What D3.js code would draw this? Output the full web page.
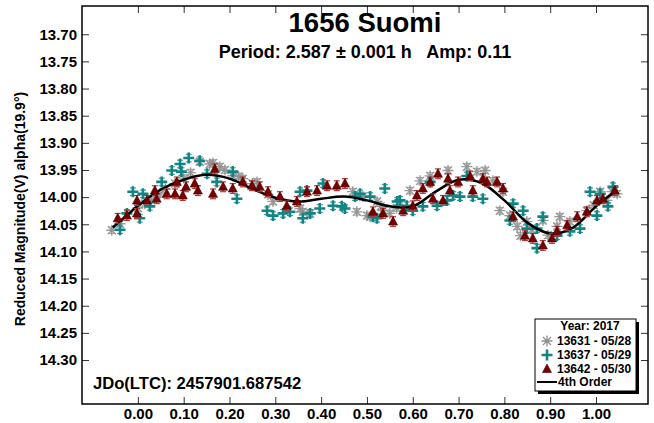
<!DOCTYPE html>
<html>
<head>
<meta charset="utf-8">
<script src="https://cdn.jsdelivr.net/npm/d3@7"></script>
<style>
  body { margin: 0; background: #fff; }
  text { font-family: "Liberation Sans", Arial, sans-serif; font-weight: bold; }
</style>
</head>
<body>
<div id="chart"></div>
<script>
// tick values
const phaseTicks = [0, 0.1, 0.2, 0.3, 0.4, 0.5, 0.6, 0.7, 0.8, 0.9, 1.0];
const magTicks = [13.70, 13.75, 13.80, 13.85, 13.90, 13.95, 14.00, 14.05, 14.10, 14.15, 14.20, 14.25, 14.30];

// session 13631 - 05/28  [phase, mag]
const s13631 = [
  [-0.057, 14.061], [-0.039, 14.049], [0.000, 14.020], [0.015, 14.012], [0.030, 14.005],
  [0.048, 13.994], [0.060, 13.985], [0.081, 13.975], [0.100, 13.965], [0.115, 13.955],
  [0.135, 13.935], [0.157, 13.939], [0.164, 13.937], [0.179, 13.944], [0.190, 13.950],
  [0.207, 13.961], [0.220, 13.962], [0.229, 13.966], [0.250, 13.975], [0.260, 13.972],
  [0.284, 13.995], [0.295, 14.008], [0.354, 14.021], [0.360, 14.027], [0.376, 14.030],
  [0.469, 13.990], [0.478, 14.027], [0.491, 13.999], [0.500, 14.034], [0.507, 14.036],
  [0.522, 14.008], [0.530, 14.017], [0.535, 14.025], [0.550, 14.030], [0.565, 14.020],
  [0.594, 13.988], [0.616, 13.970], [0.638, 13.961], [0.677, 13.951], [0.718, 13.944],
  [0.740, 13.953], [0.758, 13.951], [0.775, 13.970], [0.797, 13.990], [0.790, 14.025],
  [0.812, 14.034], [0.828, 14.054], [0.835, 14.071], [0.849, 14.045], [0.860, 14.060],
  [0.884, 14.043], [0.895, 14.070], [0.915, 14.054], [0.921, 14.036], [0.943, 14.045],
  [0.980, 14.025], [0.995, 14.015], [1.009, 13.990], [1.024, 14.006], [1.035, 13.990],
  [1.046, 13.994]
];

// session 13637 - 05/29
const s13637 = [
  [-0.039, 14.060], [-0.024, 14.030], [-0.011, 13.990], [0.011, 13.994], [0.004, 14.039],
  [0.026, 14.017], [0.052, 13.972], [0.074, 13.951], [0.092, 13.939], [0.095, 13.953],
  [0.111, 13.928], [0.135, 13.933], [0.151, 13.957], [0.172, 13.972], [0.207, 13.953],
  [0.216, 14.003], [0.282, 14.025], [0.295, 14.034], [0.317, 14.030], [0.332, 14.027],
  [0.354, 13.990], [0.360, 14.039], [0.376, 14.030], [0.369, 13.988], [0.397, 14.021],
  [0.404, 13.975], [0.426, 14.016], [0.445, 14.017], [0.452, 14.021], [0.474, 13.999],
  [0.485, 13.994], [0.507, 13.999], [0.513, 14.036], [0.522, 14.039], [0.539, 13.984],
  [0.566, 14.008], [0.572, 14.006], [0.587, 14.016], [0.600, 14.025], [0.622, 14.017],
  [0.638, 13.972], [0.653, 14.016], [0.675, 14.006], [0.688, 13.997], [0.703, 13.999],
  [0.718, 13.961], [0.731, 13.999], [0.753, 14.003], [0.819, 14.012], [0.812, 14.043],
  [0.841, 14.025], [0.849, 14.058], [0.871, 14.058], [0.884, 14.036], [0.871, 14.094],
  [0.915, 14.071], [0.943, 14.063], [0.965, 14.058], [1.002, 14.034], [0.987, 13.990],
  [1.009, 13.994], [1.026, 14.017], [1.037, 13.981]
];

// session 13642 - 05/30
const s13642 = [
  [-0.044, 14.039], [-0.024, 14.034], [-0.002, 14.030], [-0.002, 14.006], [0.020, 14.006],
  [0.037, 13.988], [0.041, 14.003], [0.063, 13.994], [0.081, 13.994], [0.085, 13.972],
  [0.098, 13.997], [0.105, 13.981], [0.124, 13.975], [0.131, 13.988], [0.164, 13.994],
  [0.168, 13.948], [0.186, 13.981], [0.207, 13.984], [0.229, 13.972], [0.249, 13.979],
  [0.266, 13.981], [0.284, 13.990], [0.310, 13.999], [0.325, 14.016], [0.347, 14.008],
  [0.369, 13.990], [0.391, 13.988], [0.413, 13.979], [0.434, 13.979], [0.452, 13.975],
  [0.513, 14.027], [0.535, 14.030], [0.557, 14.045], [0.579, 14.025], [0.600, 14.016],
  [0.609, 13.997], [0.622, 13.984], [0.638, 13.972], [0.644, 14.003], [0.655, 13.957],
  [0.666, 14.006], [0.677, 13.966], [0.681, 13.988], [0.699, 13.972], [0.725, 13.961],
  [0.731, 13.988], [0.753, 13.966], [0.762, 13.972], [0.784, 13.972], [0.797, 13.984],
  [0.819, 14.036], [0.845, 14.071], [0.862, 14.076], [0.884, 14.089], [0.904, 14.076],
  [0.915, 14.063], [0.937, 14.052], [0.959, 14.036], [0.980, 14.027], [1.002, 14.006],
  [1.015, 14.003], [1.041, 13.988]
];

// 4th order fit
const fitCurve = [
  [-0.055, 14.056], [-0.025, 14.034], [0.00, 14.016], [0.05, 13.986], [0.10, 13.968],
  [0.15, 13.959], [0.20, 13.966], [0.25, 13.985], [0.30, 14.001], [0.35, 14.008],
  [0.40, 14.003], [0.45, 13.999], [0.50, 14.006], [0.55, 14.017], [0.60, 14.017],
  [0.65, 13.990], [0.70, 13.968], [0.75, 13.974], [0.80, 14.006], [0.85, 14.047],
  [0.90, 14.067], [0.95, 14.056], [1.00, 14.017], [1.045, 13.988]
];

const errGray = 0.006, errTeal = 0.007, errRed = 0.009;

const W = 654, H = 423;
const frame = { left: 82, right: 648, top: 6, bottom: 404 };

const svg = d3.select("#chart").append("svg")
  .attr("width", W).attr("height", H);

const x = d3.scaleLinear().domain([-0.122, 1.1135]).range([frame.left, frame.right]);
const y = d3.scaleLinear().domain([13.648, 14.381]).range([frame.top, frame.bottom]);

// axes, ticks pointing inward on all four sides
const fmt = d3.format(".2f");
const tk = 7;
svg.append("g").attr("transform", `translate(${frame.left},0)`)
  .call(d3.axisLeft(y).tickValues(magTicks).tickFormat(fmt).tickSizeInner(-tk).tickSizeOuter(0).tickPadding(5))
  .call(g => g.select(".domain").remove());
svg.append("g").attr("transform", `translate(${frame.right},0)`)
  .call(d3.axisRight(y).tickValues(magTicks).tickFormat("").tickSizeInner(-tk).tickSizeOuter(0))
  .call(g => g.select(".domain").remove());
svg.append("g").attr("transform", `translate(0,${frame.bottom})`)
  .call(d3.axisBottom(x).tickValues(phaseTicks).tickFormat(fmt).tickSizeInner(-tk).tickSizeOuter(0).tickPadding(4))
  .call(g => g.select(".domain").remove());
svg.append("g").attr("transform", `translate(0,${frame.top})`)
  .call(d3.axisTop(x).tickValues(phaseTicks).tickFormat("").tickSizeInner(-tk).tickSizeOuter(0))
  .call(g => g.select(".domain").remove());
svg.selectAll(".tick text").attr("font-size", 15).attr("font-family", null).attr("fill", "#000");
svg.selectAll(".tick line").attr("stroke", "#333").attr("stroke-width", 1);

svg.append("rect")
  .attr("x", frame.left).attr("y", frame.top)
  .attr("width", frame.right - frame.left).attr("height", frame.bottom - frame.top)
  .attr("fill", "none").attr("stroke", "#000").attr("stroke-width", 1.5);

// titles
const cx = (frame.left + frame.right) / 2;
svg.append("text").attr("x", cx).attr("y", 32).attr("text-anchor", "middle")
  .attr("font-size", 27.5).text("1656 Suomi");
svg.append("text").attr("x", cx).attr("y", 58).attr("text-anchor", "middle")
  .attr("font-size", 18).text("Period: 2.587 \u00b1 0.001 h   Amp: 0.11")
  .style("white-space", "pre");
svg.append("text").attr("transform", `translate(25,${(frame.top + frame.bottom) / 2 + 4}) rotate(-90)`)
  .attr("text-anchor", "middle").attr("font-size", 14)
  .text("Reduced Magnitude(V) alpha(19.9\u00b0)");
svg.append("text").attr("x", 93).attr("y", 389).attr("font-size", 16.6)
  .text("JDo(LTC): 2457901.687542");

// data
const plot = svg.append("g");

function errorBars(data, err, color) {
  const g = plot.append("g").attr("stroke", color).attr("stroke-width", 1.2);
  g.selectAll("line.v").data(data).join("line")
    .attr("x1", d => x(d[0])).attr("x2", d => x(d[0]))
    .attr("y1", d => y(d[1] - err)).attr("y2", d => y(d[1] + err));
  g.selectAll("line.t").data(data).join("line").attr("class", "t")
    .attr("x1", d => x(d[0]) - 3).attr("x2", d => x(d[0]) + 3)
    .attr("y1", d => y(d[1] - err)).attr("y2", d => y(d[1] - err));
  g.selectAll("line.b").data(data).join("line").attr("class", "b")
    .attr("x1", d => x(d[0]) - 3).attr("x2", d => x(d[0]) + 3)
    .attr("y1", d => y(d[1] + err)).attr("y2", d => y(d[1] + err));
}

const starPath = "M-5.5,0H5.5M0,-5.5V5.5M-4,-4L4,4M-4,4L4,-4";
const plusPath = "M-5.5,0H5.5M0,-5.5V5.5";
const triPath = "M0,-5L4.5,3.5H-4.5Z";

// 13631
errorBars(s13631, errGray, "#a8a8a8");
plot.append("g").selectAll("path").data(s13631).join("path")
  .attr("transform", d => `translate(${x(d[0])},${y(d[1])})`)
  .attr("d", starPath).attr("fill", "none").attr("stroke", "#8e8e8e").attr("stroke-width", 1.3)
  .attr("opacity", 0.9);

// 13637
errorBars(s13637, errTeal, "#3a9c9c");
plot.append("g").selectAll("path").data(s13637).join("path")
  .attr("transform", d => `translate(${x(d[0])},${y(d[1])})`)
  .attr("d", plusPath).attr("fill", "none").attr("stroke", "#118585").attr("stroke-width", 2.6);

// fit
plot.append("path").datum(fitCurve)
  .attr("d", d3.line().x(d => x(d[0])).y(d => y(d[1])).curve(d3.curveCatmullRom))
  .attr("fill", "none").attr("stroke", "#000").attr("stroke-width", 2.5);

// 13642
errorBars(s13642, errRed, "#b03a3a");
plot.append("g").selectAll("path").data(s13642).join("path")
  .attr("transform", d => `translate(${x(d[0])},${y(d[1])})`)
  .attr("d", triPath).attr("fill", "#760000").attr("stroke", "#4a0000").attr("stroke-width", 0.6);

// legend
const lg = svg.append("g");
const lx = 535, ly = 319, lw = 101, lh = 72;
lg.append("rect").attr("x", lx + 3).attr("y", ly + 3).attr("width", lw).attr("height", lh).attr("fill", "#000");
lg.append("rect").attr("x", lx).attr("y", ly).attr("width", lw).attr("height", lh)
  .attr("fill", "#fff").attr("stroke", "#000").attr("stroke-width", 1);
lg.append("text").attr("x", 590).attr("y", 330).attr("text-anchor", "middle").attr("font-size", 12).text("Year: 2017");
const items = [
  { label: "13631 - 05/28", d: starPath, fill: "none", stroke: "#8e8e8e", sw: 1.3 },
  { label: "13637 - 05/29", d: plusPath, fill: "none", stroke: "#118585", sw: 2.6 },
  { label: "13642 - 05/30", d: triPath, fill: "#760000", stroke: "#4a0000", sw: 0.6 }
];
items.forEach((it, i) => {
  const yy = 341 + i * 14;
  lg.append("path").attr("transform", `translate(547,${yy})`).attr("d", it.d)
    .attr("fill", it.fill).attr("stroke", it.stroke).attr("stroke-width", it.sw);
  lg.append("text").attr("x", 557).attr("y", yy + 4).attr("font-size", 12).text(it.label);
});
lg.append("line").attr("x1", 537).attr("x2", 557).attr("y1", 382).attr("y2", 382)
  .attr("stroke", "#000").attr("stroke-width", 2);
lg.append("text").attr("x", 558).attr("y", 386).attr("font-size", 12).text("4th Order");
</script>
</body>
</html>
